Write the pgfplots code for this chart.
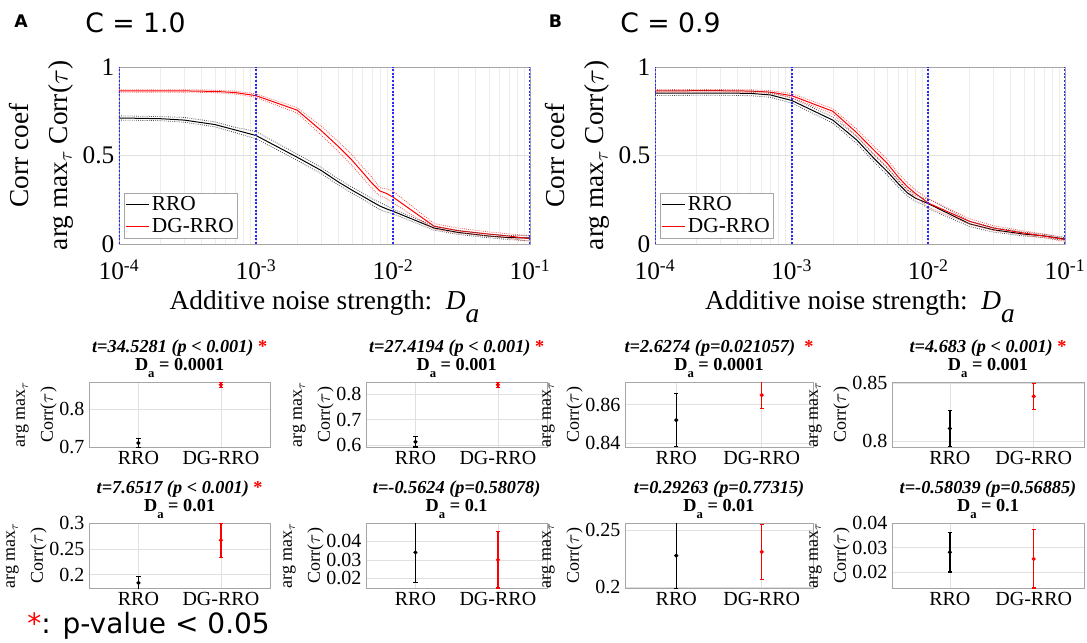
\documentclass[border=0pt]{standalone}
\usepackage{fontspec}
\setmainfont{Liberation Serif}
\newfontfamily\sansf{DejaVu Sans}
\usepackage{pgfplots}
\pgfplotsset{compat=1.18}
\usepackage{pgfplotstable}

\pgfplotstableread{
x      rm    rl    rh    bm    bl    bh
1e-4   0.865 0.858 0.872 0.712 0.700 0.724
2e-4   0.865 0.858 0.872 0.708 0.697 0.720
3e-4   0.865 0.858 0.872 0.700 0.688 0.715
5e-4   0.862 0.855 0.869 0.675 0.662 0.690
7e-4   0.856 0.848 0.864 0.645 0.630 0.660
1e-3   0.838 0.828 0.848 0.613 0.595 0.635
2e-3   0.756 0.740 0.770 0.490 0.472 0.508
3e-3   0.640 0.615 0.665 0.415 0.397 0.432
4e-3   0.550 0.522 0.578 0.350 0.333 0.367
5e-3   0.475 0.445 0.505 0.305 0.288 0.322
6e-3   0.405 0.375 0.435 0.270 0.253 0.287
7e-3   0.345 0.315 0.378 0.240 0.222 0.257
8e-3   0.300 0.272 0.318 0.215 0.195 0.235
9e-3   0.285 0.255 0.312 0.198 0.180 0.215
1e-2   0.265 0.232 0.298 0.185 0.170 0.197
2e-2   0.100 0.085 0.115 0.090 0.078 0.102
3e-2   0.075 0.062 0.090 0.065 0.054 0.076
5e-2   0.056 0.045 0.068 0.045 0.035 0.056
7e-2   0.045 0.033 0.058 0.036 0.025 0.047
1e-1   0.030 0.015 0.045 0.034 0.018 0.050
}\dataA

\pgfplotstableread{
x      rm    rl    rh    bm    bl    bh
1e-4   0.865 0.858 0.872 0.852 0.839 0.866
2e-4   0.866 0.859 0.873 0.853 0.840 0.866
3e-4   0.866 0.859 0.873 0.853 0.840 0.866
5e-4   0.864 0.857 0.871 0.851 0.838 0.864
7e-4   0.858 0.850 0.866 0.842 0.829 0.856
1e-3   0.838 0.827 0.850 0.811 0.796 0.826
2e-3   0.750 0.735 0.765 0.700 0.683 0.717
3e-3   0.628 0.608 0.648 0.587 0.567 0.607
4e-3   0.530 0.508 0.552 0.484 0.464 0.504
5e-3   0.456 0.434 0.478 0.410 0.390 0.430
6e-3   0.380 0.358 0.402 0.343 0.323 0.363
7e-3   0.325 0.305 0.347 0.290 0.272 0.309
8e-3   0.287 0.267 0.307 0.260 0.242 0.278
9e-3   0.258 0.238 0.278 0.243 0.225 0.260
1e-2   0.231 0.207 0.256 0.228 0.200 0.256
2e-2   0.128 0.113 0.143 0.114 0.099 0.129
3e-2   0.090 0.077 0.103 0.080 0.067 0.093
5e-2   0.062 0.051 0.074 0.056 0.045 0.067
7e-2   0.045 0.035 0.056 0.046 0.037 0.055
1e-1   0.025 0.014 0.037 0.028 0.020 0.036
}\dataB

\pgfplotstableread{
x y
1e-4 0
1e-4 1
}\vA
\pgfplotstableread{
x y
1e-3 0
1e-3 1
}\vB
\pgfplotstableread{
x y
1e-2 0
1e-2 1
}\vC
\pgfplotstableread{
x y
1e-1 0
1e-1 1
}\vD

\definecolor{vblue}{RGB}{40,40,255}
\newcommand{\Da}[1]{D\raisebox{-0.75ex}{\fontsize{9.5}{9.5}\selectfont a} = #1}
\newcommand{\mfont}{\fontsize{19}{19}\selectfont}
\newcommand{\lfont}{\fontsize{20.5}{29}\selectfont}
\newcommand{\sfont}{\fontsize{15}{15}\selectfont}
\newcommand{\slfont}{\fontsize{13.5}{21}\selectfont}
\newcommand{\tfont}{\fontsize{13.7}{13.5}\selectfont\bfseries}

\begin{document}
\begin{tikzpicture}
\useasboundingbox (0pt,0pt) rectangle (815.25pt,-481.5pt);

% panel labels
\node[anchor=base west, inner sep=0pt, font=\sansf\bfseries\fontsize{13}{13}\selectfont] at (10.5pt,-21pt) {A};
\node[anchor=base west, inner sep=0pt, font=\sansf\fontsize{20}{20}\selectfont] at (63.75pt,-24.5pt) {C = 1.0};
\node[anchor=base west, inner sep=0pt, font=\sansf\bfseries\fontsize{13}{13}\selectfont] at (411.4pt,-21pt) {B};
\node[anchor=base west, inner sep=0pt, font=\sansf\fontsize{20}{20}\selectfont] at (465pt,-24.5pt) {C = 0.9};
\node[anchor=base west, inner sep=0pt, font=\sansf\fontsize{21}{21}\selectfont] at (20.25pt,-475pt) {\textcolor{red}{*}: p-value < 0.05};

% ===== main A =====
\begin{axis}[at={(89.25pt,-183pt)}, anchor=south west,
    xmode=log, xmin=1e-4, xmax=1e-1, ymin=0, ymax=1,
    width=308.25pt, height=132.75pt, scale only axis,
    xtick={1e-4,1e-3,1e-2,1e-1},
    xticklabels={10\textsuperscript{-4},10\textsuperscript{-3},10\textsuperscript{-2},10\textsuperscript{-1}},
    minor xtick={2e-4,3e-4,4e-4,5e-4,6e-4,7e-4,8e-4,9e-4,2e-3,3e-3,4e-3,5e-3,6e-3,7e-3,8e-3,9e-3,2e-2,3e-2,4e-2,5e-2,6e-2,7e-2,8e-2,9e-2},
    ytick={0,0.5,1}, yticklabels={0,0.5,1},
    grid=both,
    major grid style={black!12, line width=0.4pt},
    minor grid style={black!7, line width=0.3pt},
    axis line style={black!35},
    major tick length=0pt, minor tick length=0pt,
    /pgf/number format/assume math mode=true,
    tick label style={font=\mfont},
    xticklabel style={yshift=-8pt},
    ylabel={Corr coef\\arg max$_{\tau}$ Corr($\tau$)},
    ylabel style={align=center, font=\lfont},
    xlabel={Additive noise strength:\ \ \textit{D}\raisebox{-1.1ex}{\textit{a}}},
    xlabel style={font=\lfont, yshift=-1pt},
    legend style={at={(0.012,0.03)}, anchor=south west, draw=black!35,
      font=\fontsize{16}{16}\selectfont, inner sep=1pt},
    legend cell align=left]
\addplot[black, line width=0.75pt] table[x=x,y=bm]{\dataA};
\addlegendentry{RRO}
\addplot[red, line width=0.75pt] table[x=x,y=rm]{\dataA};
\addlegendentry{DG-RRO}
\addplot[black!70, densely dotted, line width=0.6pt, forget plot] table[x=x,y=bl]{\dataA};
\addplot[black!70, densely dotted, line width=0.6pt, forget plot] table[x=x,y=bh]{\dataA};
\addplot[red!70, densely dotted, line width=0.6pt, forget plot] table[x=x,y=rl]{\dataA};
\addplot[red!70, densely dotted, line width=0.6pt, forget plot] table[x=x,y=rh]{\dataA};
\addplot[vblue, dash pattern=on 1.5pt off 1.2pt, line width=1.3pt, forget plot] table[x=x,y=y]{\vA};
\addplot[vblue, dash pattern=on 1.5pt off 1.2pt, line width=1.3pt, forget plot] table[x=x,y=y]{\vB};
\addplot[vblue, dash pattern=on 1.5pt off 1.2pt, line width=1.3pt, forget plot] table[x=x,y=y]{\vC};
\addplot[vblue, dash pattern=on 1.5pt off 1.2pt, line width=1.3pt, forget plot] table[x=x,y=y]{\vD};
\end{axis}

% ===== main B =====
\begin{axis}[at={(491.25pt,-183pt)}, anchor=south west,
    xmode=log, xmin=1e-4, xmax=1e-1, ymin=0, ymax=1,
    width=307.5pt, height=132.75pt, scale only axis,
    xtick={1e-4,1e-3,1e-2,1e-1},
    xticklabels={10\textsuperscript{-4},10\textsuperscript{-3},10\textsuperscript{-2},10\textsuperscript{-1}},
    minor xtick={2e-4,3e-4,4e-4,5e-4,6e-4,7e-4,8e-4,9e-4,2e-3,3e-3,4e-3,5e-3,6e-3,7e-3,8e-3,9e-3,2e-2,3e-2,4e-2,5e-2,6e-2,7e-2,8e-2,9e-2},
    ytick={0,0.5,1}, yticklabels={0,0.5,1},
    grid=both,
    major grid style={black!12, line width=0.4pt},
    minor grid style={black!7, line width=0.3pt},
    axis line style={black!35},
    major tick length=0pt, minor tick length=0pt,
    /pgf/number format/assume math mode=true,
    tick label style={font=\mfont},
    xticklabel style={yshift=-8pt},
    ylabel={Corr coef\\arg max$_{\tau}$ Corr($\tau$)},
    ylabel style={align=center, font=\lfont},
    xlabel={Additive noise strength:\ \ \textit{D}\raisebox{-1.1ex}{\textit{a}}},
    xlabel style={font=\lfont, yshift=-1pt},
    legend style={at={(0.012,0.03)}, anchor=south west, draw=black!35,
      font=\fontsize{16}{16}\selectfont, inner sep=1pt},
    legend cell align=left]
\addplot[black, line width=0.75pt] table[x=x,y=bm]{\dataB};
\addlegendentry{RRO}
\addplot[red, line width=0.75pt] table[x=x,y=rm]{\dataB};
\addlegendentry{DG-RRO}
\addplot[black!70, densely dotted, line width=0.6pt, forget plot] table[x=x,y=bl]{\dataB};
\addplot[black!70, densely dotted, line width=0.6pt, forget plot] table[x=x,y=bh]{\dataB};
\addplot[red!70, densely dotted, line width=0.6pt, forget plot] table[x=x,y=rl]{\dataB};
\addplot[red!70, densely dotted, line width=0.6pt, forget plot] table[x=x,y=rh]{\dataB};
\addplot[vblue, dash pattern=on 1.5pt off 1.2pt, line width=1.3pt, forget plot] table[x=x,y=y]{\vA};
\addplot[vblue, dash pattern=on 1.5pt off 1.2pt, line width=1.3pt, forget plot] table[x=x,y=y]{\vB};
\addplot[vblue, dash pattern=on 1.5pt off 1.2pt, line width=1.3pt, forget plot] table[x=x,y=y]{\vC};
\addplot[vblue, dash pattern=on 1.5pt off 1.2pt, line width=1.3pt, forget plot] table[x=x,y=y]{\vD};
\end{axis}

% ===== small A1 =====
\begin{axis}[at={(66.75pt,-335.25pt)}, anchor=south west,
  width=136pt, height=48.75pt, scale only axis,
  xmin=0.4, xmax=2.6, xtick={1,2}, xticklabels={RRO,DG-RRO},
  grid=major, major grid style={black!12, line width=0.4pt},
  axis line style={black!35}, major tick length=0pt,
  /pgf/number format/assume math mode=true, scaled y ticks=false,
  tick label style={font=\sfont},
  ylabel={arg max$_{\tau}$\\Corr($\tau$)}, ylabel style={align=center, font=\slfont, yshift=-5pt},
  title style={align=center, font=\tfont, yshift=-6pt},
  ymin=0.70, ymax=0.871, ytick={0.7,0.8}, yticklabels={0.7,0.8},
  title={\textit{t=34.5281 (p < 0.001)} \textcolor{red}{*}\\\Da{0.0001}}]
\addplot[black, line width=1.1pt, mark=*, mark size=0.9pt,
  error bars/.cd, y dir=both, y explicit, error bar style={line width=1.1pt},
  error mark options={rotate=90, mark size=1.6pt, line width=0.8pt}]
  coordinates {(1,0.7105) +- (0,0.012)};
\addplot[red, line width=1.1pt, mark=*, mark size=0.9pt,
  error bars/.cd, y dir=both, y explicit, error bar style={line width=1.1pt},
  error mark options={rotate=90, mark size=1.6pt, line width=0.8pt}]
  coordinates {(2,0.864) +- (0,0.007)};
\end{axis}

% ===== small A2 =====
\begin{axis}[at={(274.5pt,-335.25pt)}, anchor=south west,
  width=136pt, height=48.75pt, scale only axis,
  xmin=0.4, xmax=2.6, xtick={1,2}, xticklabels={RRO,DG-RRO},
  grid=major, major grid style={black!12, line width=0.4pt},
  axis line style={black!35}, major tick length=0pt,
  /pgf/number format/assume math mode=true, scaled y ticks=false,
  tick label style={font=\sfont},
  ylabel={arg max$_{\tau}$\\Corr($\tau$)}, ylabel style={align=center, font=\slfont, yshift=-5pt},
  title style={align=center, font=\tfont, yshift=-6pt},
  ymin=0.593, ymax=0.847, ytick={0.6,0.7,0.8}, yticklabels={0.6,0.7,0.8},
  title={\textit{t=27.4194 (p < 0.001)} \textcolor{red}{*}\\\Da{0.001}}]
\addplot[black, line width=1.1pt, mark=*, mark size=0.9pt,
  error bars/.cd, y dir=both, y explicit, error bar style={line width=1.1pt},
  error mark options={rotate=90, mark size=1.6pt, line width=0.8pt}]
  coordinates {(1,0.613) +- (0,0.02)};
\addplot[red, line width=1.1pt, mark=*, mark size=0.9pt,
  error bars/.cd, y dir=both, y explicit, error bar style={line width=1.1pt},
  error mark options={rotate=90, mark size=1.6pt, line width=0.8pt}]
  coordinates {(2,0.836) +- (0,0.009)};
\end{axis}

% ===== small B1 =====
\begin{axis}[at={(468.75pt,-335.25pt)}, anchor=south west,
  width=141pt, height=48.75pt, scale only axis,
  xmin=0.4, xmax=2.6, xtick={1,2}, xticklabels={RRO,DG-RRO},
  grid=major, major grid style={black!12, line width=0.4pt},
  axis line style={black!35}, major tick length=0pt,
  /pgf/number format/assume math mode=true, scaled y ticks=false,
  tick label style={font=\sfont},
  ylabel={arg max$_{\tau}$\\Corr($\tau$)}, ylabel style={align=center, font=\slfont, yshift=-5pt},
  title style={align=center, font=\tfont, yshift=-6pt},
  ymin=0.838, ymax=0.8718, ytick={0.84,0.86}, yticklabels={0.84,0.86},
  title={\textit{t=2.6274 (p=0.021057)}\ \ \textcolor{red}{*}\\\Da{0.0001}}]
\addplot[black, line width=1.1pt, mark=*, mark size=0.9pt,
  error bars/.cd, y dir=both, y explicit, error bar style={line width=1.1pt},
  error mark options={rotate=90, mark size=1.6pt, line width=0.8pt}]
  coordinates {(1,0.852) +- (0,0.0137)};
\addplot[red, line width=1.1pt, mark=*, mark size=0.9pt,
  error bars/.cd, y dir=both, y explicit, error bar style={line width=1.1pt},
  error mark options={rotate=90, mark size=1.6pt, line width=0.8pt}]
  coordinates {(2,0.865) +- (0,0.007)};
\end{axis}

% ===== small B2 =====
\begin{axis}[at={(669pt,-335.25pt)}, anchor=south west,
  width=144pt, height=48.75pt, scale only axis,
  xmin=0.31, xmax=2.6, xtick={1,2}, xticklabels={RRO,DG-RRO},
  grid=major, major grid style={black!12, line width=0.4pt},
  axis line style={black!35}, major tick length=0pt,
  /pgf/number format/assume math mode=true, scaled y ticks=false,
  tick label style={font=\sfont},
  ylabel={arg max$_{\tau}$\\Corr($\tau$)}, ylabel style={align=center, font=\slfont, yshift=-5pt},
  title style={align=center, font=\tfont, yshift=-6pt},
  ymin=0.795, ymax=0.851, ytick={0.8,0.85}, yticklabels={0.8,0.85},
  title={\textit{t=4.683 (p < 0.001)} \textcolor{red}{*}\\\Da{0.001}}]
\addplot[black, line width=1.1pt, mark=*, mark size=0.9pt,
  error bars/.cd, y dir=both, y explicit, error bar style={line width=1.1pt},
  error mark options={rotate=90, mark size=1.6pt, line width=0.8pt}]
  coordinates {(1,0.811) +- (0,0.0155)};
\addplot[red, line width=1.1pt, mark=*, mark size=0.9pt,
  error bars/.cd, y dir=both, y explicit, error bar style={line width=1.1pt},
  error mark options={rotate=90, mark size=1.6pt, line width=0.8pt}]
  coordinates {(2,0.8386) +- (0,0.0115)};
\end{axis}

% ===== small A3 =====
\begin{axis}[at={(66.75pt,-441pt)}, anchor=south west,
  width=136pt, height=48.75pt, scale only axis,
  xmin=0.4, xmax=2.6, xtick={1,2}, xticklabels={RRO,DG-RRO},
  grid=major, major grid style={black!12, line width=0.4pt},
  axis line style={black!35}, major tick length=0pt,
  /pgf/number format/assume math mode=true, scaled y ticks=false,
  tick label style={font=\sfont},
  ylabel={arg max$_{\tau}$\\Corr($\tau$)}, ylabel style={align=center, font=\slfont, yshift=-5pt},
  title style={align=center, font=\tfont, yshift=-6pt},
  ymin=0.174, ymax=0.30, ytick={0.2,0.25,0.3}, yticklabels={0.2,0.25,0.3},
  title={\textit{t=7.6517 (p < 0.001)} \textcolor{red}{*}\\\Da{0.01}}]
\addplot[black, line width=1.1pt, mark=*, mark size=0.9pt,
  error bars/.cd, y dir=both, y explicit, error bar style={line width=1.1pt},
  error mark options={rotate=90, mark size=1.6pt, line width=0.8pt}]
  coordinates {(1,0.184) +- (0,0.012)};
\addplot[red, line width=1.1pt, mark=*, mark size=0.9pt,
  error bars/.cd, y dir=both, y explicit, error bar style={line width=1.1pt},
  error mark options={rotate=90, mark size=1.6pt, line width=0.8pt}]
  coordinates {(2,0.2665) +- (0,0.033)};
\end{axis}

% ===== small A4 =====
\begin{axis}[at={(274.5pt,-441pt)}, anchor=south west,
  width=136pt, height=48.75pt, scale only axis,
  xmin=0.4, xmax=2.6, xtick={1,2}, xticklabels={RRO,DG-RRO},
  grid=major, major grid style={black!12, line width=0.4pt},
  axis line style={black!35}, major tick length=0pt,
  /pgf/number format/assume math mode=true, scaled y ticks=false,
  tick label style={font=\sfont},
  ylabel={arg max$_{\tau}$\\Corr($\tau$)}, ylabel style={align=center, font=\slfont, yshift=-5pt},
  title style={align=center, font=\tfont, yshift=-6pt},
  ymin=0.0148, ymax=0.0499, ytick={0.02,0.03,0.04}, yticklabels={0.02,0.03,0.04},
  title={\textit{t=-0.5624 (p=0.58078)}\\\Da{0.1}}]
\addplot[black, line width=1.1pt, mark=*, mark size=0.9pt,
  error bars/.cd, y dir=both, y explicit, error bar style={line width=1.1pt},
  error mark options={rotate=90, mark size=1.6pt, line width=0.8pt}]
  coordinates {(1,0.034) +- (0,0.016)};
\addplot[red, line width=1.1pt, mark=*, mark size=0.9pt,
  error bars/.cd, y dir=both, y explicit, error bar style={line width=1.1pt},
  error mark options={rotate=90, mark size=1.6pt, line width=0.8pt}]
  coordinates {(2,0.030) +- (0,0.0152)};
\end{axis}

% ===== small B3 =====
\begin{axis}[at={(468.75pt,-441pt)}, anchor=south west,
  width=141pt, height=48.75pt, scale only axis,
  xmin=0.4, xmax=2.6, xtick={1,2}, xticklabels={RRO,DG-RRO},
  grid=major, major grid style={black!12, line width=0.4pt},
  axis line style={black!35}, major tick length=0pt,
  /pgf/number format/assume math mode=true, scaled y ticks=false,
  tick label style={font=\sfont},
  ylabel={arg max$_{\tau}$\\Corr($\tau$)}, ylabel style={align=center, font=\slfont, yshift=-5pt},
  title style={align=center, font=\tfont, yshift=-6pt},
  ymin=0.1994, ymax=0.2564, ytick={0.2,0.25}, yticklabels={0.2,0.25},
  title={\textit{t=0.29263 (p=0.77315)}\\\Da{0.01}}]
\addplot[black, line width=1.1pt, mark=*, mark size=0.9pt,
  error bars/.cd, y dir=both, y explicit, error bar style={line width=1.1pt},
  error mark options={rotate=90, mark size=1.6pt, line width=0.8pt}]
  coordinates {(1,0.2278) +- (0,0.029)};
\addplot[red, line width=1.1pt, mark=*, mark size=0.9pt,
  error bars/.cd, y dir=both, y explicit, error bar style={line width=1.1pt},
  error mark options={rotate=90, mark size=1.6pt, line width=0.8pt}]
  coordinates {(2,0.231) +- (0,0.0245)};
\end{axis}

% ===== small B4 =====
\begin{axis}[at={(669pt,-441pt)}, anchor=south west,
  width=144pt, height=48.75pt, scale only axis,
  xmin=0.31, xmax=2.6, xtick={1,2}, xticklabels={RRO,DG-RRO},
  grid=major, major grid style={black!12, line width=0.4pt},
  axis line style={black!35}, major tick length=0pt,
  /pgf/number format/assume math mode=true, scaled y ticks=false,
  tick label style={font=\sfont},
  ylabel={arg max$_{\tau}$\\Corr($\tau$)}, ylabel style={align=center, font=\slfont, yshift=-5pt},
  title style={align=center, font=\tfont, yshift=-6pt},
  ymin=0.0136, ymax=0.040, ytick={0.02,0.03,0.04}, yticklabels={0.02,0.03,0.04},
  title={\textit{t=-0.58039 (p=0.56885)}\\\Da{0.1}}]
\addplot[black, line width=1.1pt, mark=*, mark size=0.9pt,
  error bars/.cd, y dir=both, y explicit, error bar style={line width=1.1pt},
  error mark options={rotate=90, mark size=1.6pt, line width=0.8pt}]
  coordinates {(1,0.0281) +- (0,0.008)};
\addplot[red, line width=1.1pt, mark=*, mark size=0.9pt,
  error bars/.cd, y dir=both, y explicit, error bar style={line width=1.1pt},
  error mark options={rotate=90, mark size=1.6pt, line width=0.8pt}]
  coordinates {(2,0.0254) +- (0,0.0118)};
\end{axis}

\end{tikzpicture}
\end{document}
